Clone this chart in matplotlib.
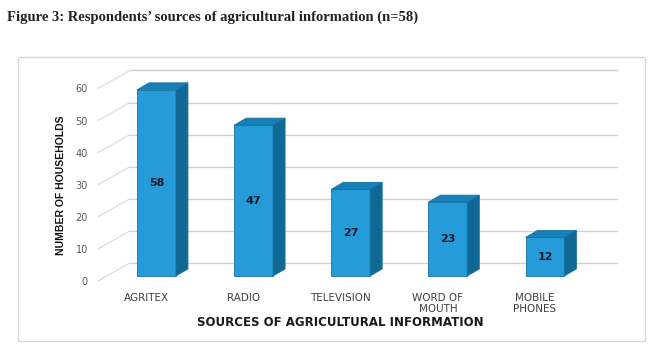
import matplotlib
matplotlib.use('Agg')
import matplotlib.pyplot as plt
from matplotlib.patches import Polygon, Rectangle
from matplotlib.transforms import ScaledTranslation

categories = ['AGRITEX', 'RADIO', 'TELEVISION', 'WORD OF\nMOUTH', 'MOBILE\nPHONES']
households = [58, 47, 27, 23, 12]
y_ticks = [0, 10, 20, 30, 40, 50, 60]

W, H = 653, 351
fig = plt.figure(figsize=(W / 100, H / 100), dpi=100)

# light frame round the chart area
fig.patches.append(Rectangle((18 / W, 1 - 341 / H), (645 - 18) / W, (341 - 57) / H,
                             transform=fig.transFigure, fill=False,
                             edgecolor='#d9d9d9', lw=1))

ax = fig.add_axes([90 / W, 1 - 292 / H, 535 / W, (292 - 67.4) / H])
ax.set_xlim(-0.685, 4.824)
ax.set_ylim(-5, 65)
ax.patch.set_visible(False)
for s in ax.spines.values():
    s.set_visible(False)

# pixels per data unit, used to turn the 3d offsets into data units
px_x = 535 / (4.824 + 0.685)
px_y = (292 - 67.4) / 70


def off(dx, dy):
    return dx / px_x, dy / px_y


bar_w = 0.40
depth_x, depth_y = off(12, 7)     # bar depth
back_x, back_y = off(23, 13)      # back wall
front_x, front_y = off(-9, -5)    # label plane
wall_l = -0.51
wall_r = 4.505

# back wall grid + left wall diagonals
for t in y_ticks:
    ax.plot([wall_l + back_x, wall_r + back_x], [t + back_y, t + back_y],
            color='#d0d0d0', lw=1, zorder=1)
    ax.plot([wall_l + front_x, wall_l + back_x], [t + front_y, t + back_y],
            color='#d9d9d9', lw=0.8, zorder=1)

front_col = '#259bd9'
side_col = '#0f6994'
top_col = '#1681b8'
edge_col = '#176f9c'

x = list(range(len(categories)))
ax.bar(x, households, width=bar_w, color=front_col, edgecolor=edge_col, lw=0.6, zorder=3)
for i, v in zip(x, households):
    x1 = i + bar_w / 2
    x0 = i - bar_w / 2
    side = [(x1, 0), (x1 + depth_x, depth_y), (x1 + depth_x, v + depth_y), (x1, v)]
    top = [(x0, v), (x1, v), (x1 + depth_x, v + depth_y), (x0 + depth_x, v + depth_y)]
    ax.add_patch(Polygon(side, closed=True, facecolor=side_col, edgecolor=edge_col, lw=0.6, zorder=3))
    ax.add_patch(Polygon(top, closed=True, facecolor=top_col, edgecolor=edge_col, lw=0.6, zorder=3))
    ax.text(i, v / 2, str(v), ha='center', va='center', fontsize=8,
            fontweight='bold', color='#1a1a2e', zorder=4)

ax.set_yticks(y_ticks)
ax.set_yticklabels([str(t) for t in y_ticks])
ax.set_xticks(x)
ax.set_xticklabels(categories)
ax.tick_params(axis='y', length=0, pad=1.5, labelsize=7, labelcolor='#595959')
ax.tick_params(axis='x', length=0, pad=0.5, labelsize=7.5, labelcolor='#404040')
for lab in ax.get_yticklabels():
    lab.set_transform(lab.get_transform() + ScaledTranslation(0, -5 / 100, fig.dpi_scale_trans))
for lab in ax.get_xticklabels():
    lab.set_transform(lab.get_transform() + ScaledTranslation(-10 / 100, 0, fig.dpi_scale_trans))

fig.text(340 / W, 1 - 322 / H, 'SOURCES OF AGRICULTURAL INFORMATION', ha='center', va='center',
         fontsize=8.5, fontweight='bold', color='#1a1a1a')
fig.text(61 / W, 1 - 185 / H, 'NUMBER OF HOUSEHOLDS', rotation=90, ha='center', va='center',
         fontsize=7.5, fontweight='bold', color='#111111', family='Liberation Sans')

fig.text(7 / W, 1 - 17 / H, 'Figure 3: Respondents\u2019 sources of agricultural information (n=58)',
         ha='left', va='center', fontsize=10.5, fontweight='bold', color='#222222',
         family=['Liberation Serif', 'DejaVu Serif'])

fig.savefig('out.png', dpi=100)
